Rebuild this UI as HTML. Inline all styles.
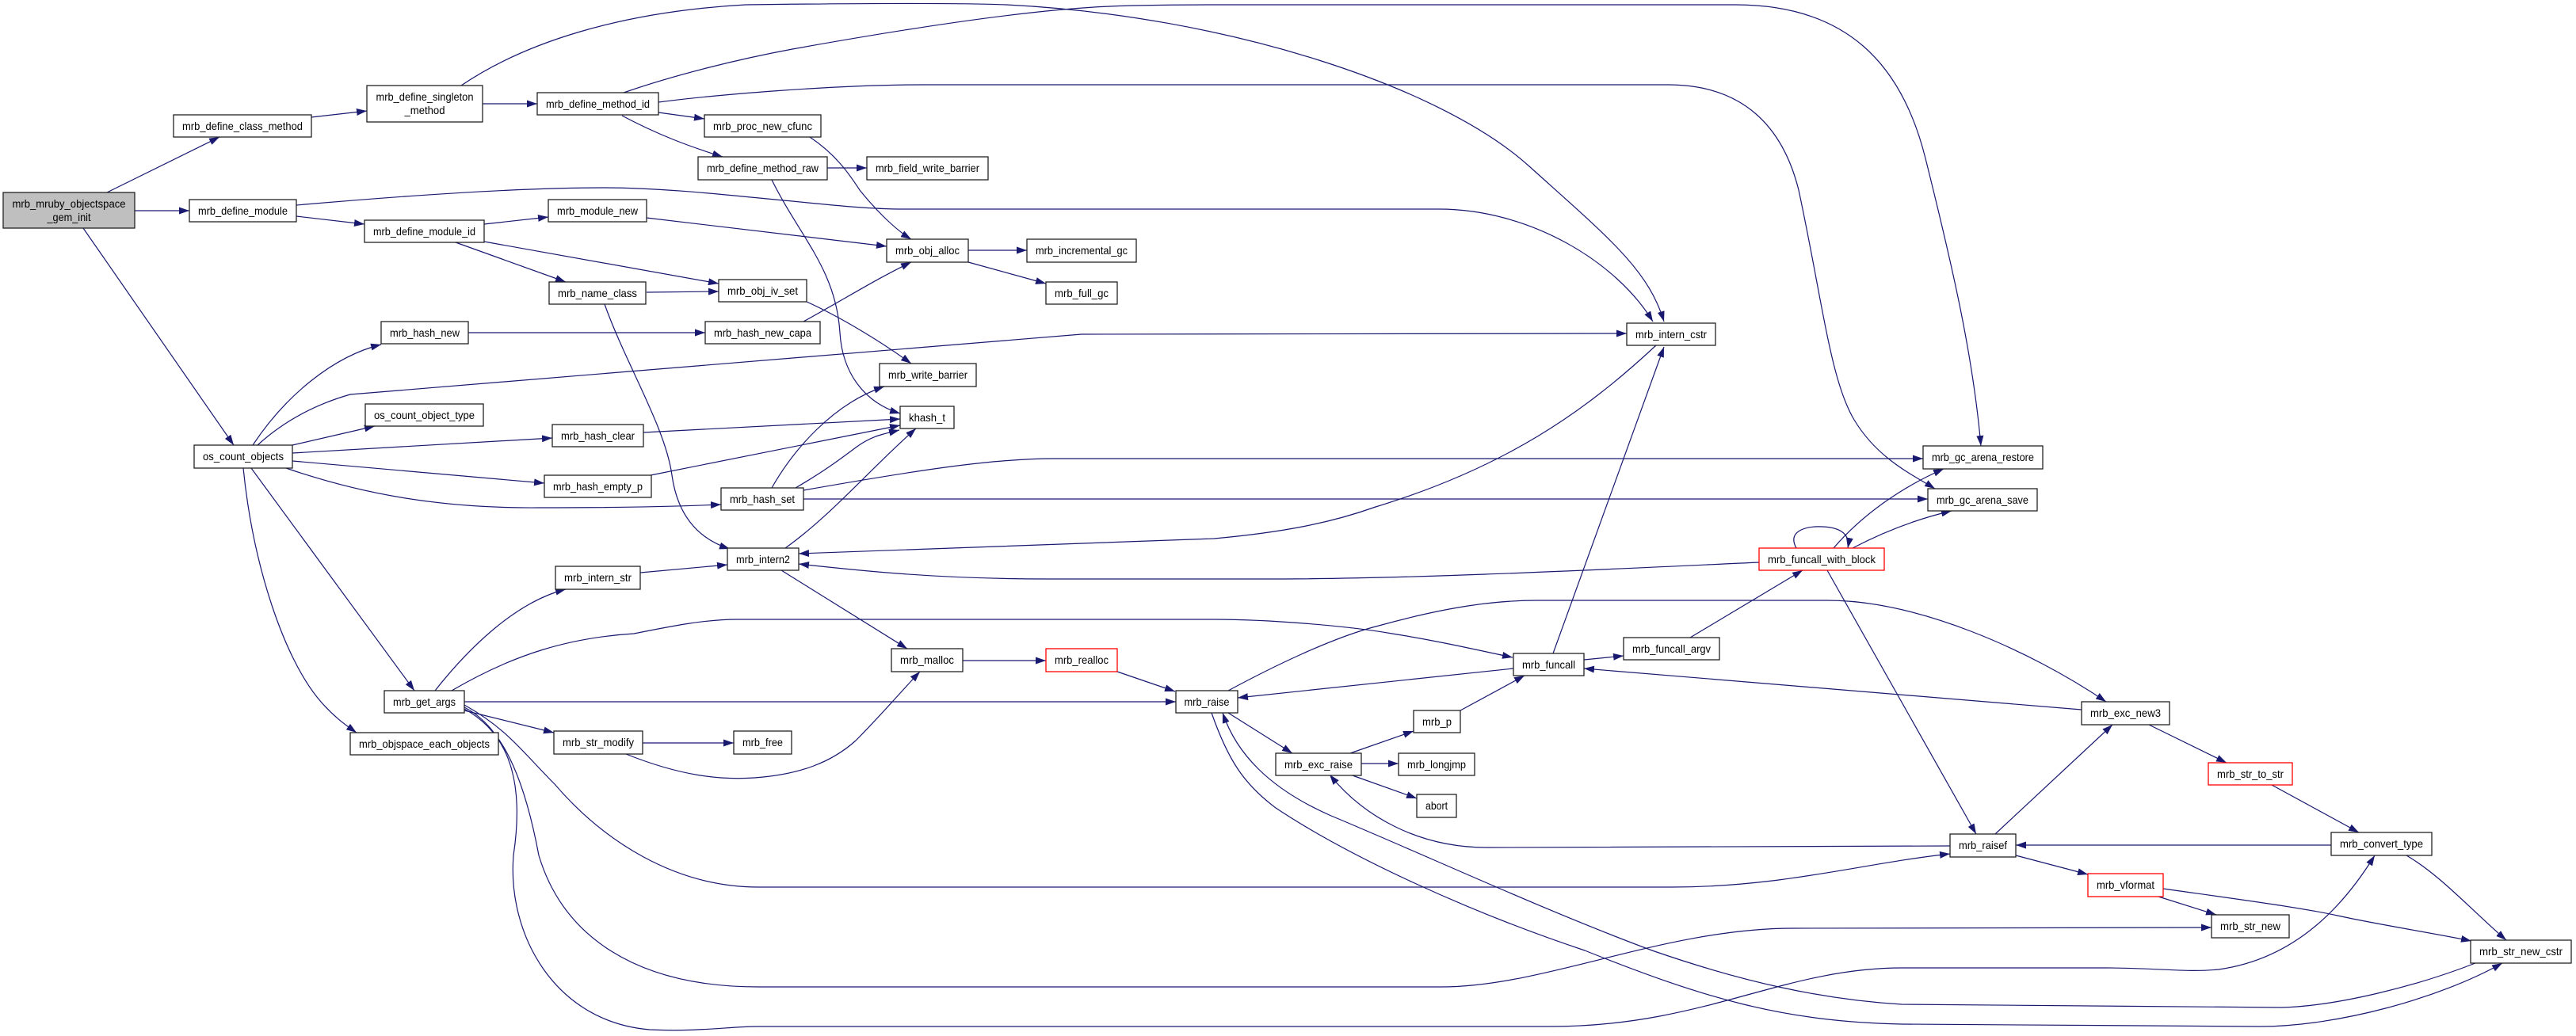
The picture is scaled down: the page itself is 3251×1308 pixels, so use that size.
<!DOCTYPE html>
<html><head><meta charset="utf-8"><style>
html,body{margin:0;padding:0;background:#fff;}
svg{display:block;}
text{font-family:"Liberation Sans",Arial,sans-serif;font-size:14px;fill:#000;}
.e{fill:none;stroke:#191970;stroke-width:1.2;marker-end:url(#a);}
.n{fill:#fff;stroke:#222;stroke-width:1.3;}
.r{fill:#fff;stroke:#ff0000;stroke-width:1.3;}
.g{fill:#bfbfbf;stroke:#222;stroke-width:1.3;}
</style></head><body>
<svg width="3251" height="1308" viewBox="0 0 3251 1308" xmlns="http://www.w3.org/2000/svg">
<defs><marker id="a" viewBox="0 0 13 9" refX="13" refY="4.5" markerWidth="13" markerHeight="9" markerUnits="userSpaceOnUse" orient="auto"><path d="M0,0 L13,4.5 L0,9 z" fill="#191970"/></marker></defs>
<rect width="3251" height="1308" fill="#fff"/>
<g>
<path class="e" d="M135,243 L277,173"/>
<path class="e" d="M170,266 L239,266"/>
<path class="e" d="M105,288 L295,562"/>
<path class="e" d="M393,148 L463,140"/>
<path class="e" d="M609,131 L678,131"/>
<path class="e" d="M582,108 C660,55 780,15 941,6 C1100,4 1220,4 1270,6 C1550,20 1820,110 1930,210 C2030,300 2080,340 2100,406"/>
<path class="e" d="M787,117 C850,95 930,75 1000,62 C1150,35 1300,12 1401,8 C1450,6 1500,6 1540,6 L2190,6 C2330,6 2400,80 2430,200 C2465,340 2490,450 2500,563"/>
<path class="e" d="M831,129 C900,120 1050,107 1166,107 L2105,107 C2200,107 2250,160 2270,240 C2300,380 2310,480 2340,530 C2370,580 2415,600 2442,617"/>
<path class="e" d="M831,142 L889,150"/>
<path class="e" d="M785,146 C830,170 870,185 912,198"/>
<path class="e" d="M1044,212 L1094,212"/>
<path class="e" d="M974,227 C1010,300 1055,340 1060,420 C1063,470 1090,508 1136,522"/>
<path class="e" d="M1022,173 C1055,195 1072,220 1085,240 C1105,265 1130,290 1150,302"/>
<path class="e" d="M374,259 C500,248 650,237 760,237 C850,237 950,250 1000,254 C1060,260 1100,264 1140,264 L1816,264 C1930,264 2040,330 2086,406"/>
<path class="e" d="M374,273 L460,283"/>
<path class="e" d="M611,283 L692,274"/>
<path class="e" d="M611,305 L907,358"/>
<path class="e" d="M575,306 L714,356"/>
<path class="e" d="M816,275 L1119,311"/>
<path class="e" d="M816,369 L907,368"/>
<path class="e" d="M763,384 C790,460 840,540 848,600 C855,650 880,680 921,693"/>
<path class="e" d="M1222,316 L1296,316"/>
<path class="e" d="M1222,331 L1320,358"/>
<path class="e" d="M1018,381 C1060,400 1110,430 1150,459"/>
<path class="e" d="M591,420 L890,420"/>
<path class="e" d="M1014,406 C1070,375 1110,350 1150,331"/>
<path class="e" d="M319,562 C360,500 420,450 481,435"/>
<path class="e" d="M325,562 C360,530 400,510 442,498 L1365,422 L2053,421"/>
<path class="e" d="M369,562 L473,538"/>
<path class="e" d="M369,572 L697,553"/>
<path class="e" d="M369,582 L687,610"/>
<path class="e" d="M361,591 C460,625 560,642 680,641 C760,641 840,640 910,637"/>
<path class="e" d="M317,591 L523,872"/>
<path class="e" d="M307,591 C320,720 360,830 400,880 C420,905 440,918 450,925"/>
<path class="e" d="M812,546 L1136,529"/>
<path class="e" d="M821,600 L1136,537"/>
<path class="e" d="M974,616 C1000,570 1050,510 1116,488"/>
<path class="e" d="M1004,616 C1040,595 1060,580 1080,565 C1100,550 1115,548 1135,543"/>
<path class="e" d="M1014,619 C1150,595 1250,579 1330,579 L2427,579"/>
<path class="e" d="M1014,630 L2433,630"/>
<path class="e" d="M991,692 C1050,650 1100,590 1156,541"/>
<path class="e" d="M986,720 L1145,819"/>
<path class="e" d="M2090,436 C2000,520 1900,590 1736,640 C1680,660 1620,672 1532,680 L1008,699"/>
<path class="e" d="M808,723 L918,713"/>
<path class="e" d="M2220,710 C2000,720 1800,730 1620,731 L1323,731 C1180,731 1080,720 1008,712"/>
<path class="e" d="M1215,834 L1320,834"/>
<path class="e" d="M1410,848 L1483,873"/>
<path class="e" d="M790,952 C860,980 910,985 952,982 C1010,978 1050,962 1080,935 C1110,905 1140,870 1161,848"/>
<path class="e" d="M811,938 L926,938"/>
<path class="e" d="M586,897 L699,925"/>
<path class="e" d="M586,886 L1484,886"/>
<path class="e" d="M549,872 C590,820 650,760 714,744"/>
<path class="e" d="M570,872 C650,825 720,805 800,800 C850,790 890,782 931,782 L1532,782 C1600,782 1700,790 1757,800 C1820,810 1870,822 1909,830"/>
<path class="e" d="M586,890 C640,920 660,950 700,990 C760,1060 850,1120 957,1120 L2110,1120 C2250,1120 2350,1090 2461,1078"/>
<path class="e" d="M586,893 C640,920 665,1000 680,1080 C710,1180 800,1246 957,1246 L1819,1246 C1950,1246 2100,1172 2263,1172 L2791,1171"/>
<path class="e" d="M586,895 C650,930 660,1000 648,1080 C640,1180 700,1290 820,1300 C880,1303 920,1296 957,1296 L1957,1296 C2150,1296 2250,1222 2400,1222 L2658,1222 C2720,1222 2760,1228 2800,1224 C2900,1210 2960,1140 2997,1080"/>
<path class="e" d="M1550,900 L1631,951"/>
<path class="e" d="M1550,872 C1600,845 1680,805 1740,790 C1830,765 1890,758 1940,758 L2306,758 C2420,758 2560,820 2658,886"/>
<path class="e" d="M1529,900 C1550,960 1570,990 1610,1020 C1700,1080 1850,1150 2000,1200 C2150,1260 2250,1290 2400,1293 L2852,1296 C2950,1296 3080,1260 3158,1216"/>
<path class="e" d="M3124,1216 C3050,1245 2950,1270 2880,1272 L2400,1268 C2300,1262 2200,1240 2085,1200 C1950,1150 1800,1080 1680,1030 C1600,995 1560,950 1543,900"/>
<path class="e" d="M1704,951 L1784,923"/>
<path class="e" d="M1718,964 L1765,964"/>
<path class="e" d="M1704,978 L1788,1008"/>
<path class="e" d="M1843,897 L1924,853"/>
<path class="e" d="M1960,825 L2100,438"/>
<path class="e" d="M1999,833 L2049,828"/>
<path class="e" d="M1910,844 L1562,881"/>
<path class="e" d="M2133,805 L2275,720"/>
<path class="e" d="M2267,692 C2255,670 2280,664 2300,665 C2325,666 2335,676 2332,692"/>
<path class="e" d="M2314,692 C2350,650 2400,615 2453,592"/>
<path class="e" d="M2338,692 C2380,670 2420,655 2463,645"/>
<path class="e" d="M2306,720 L2494,1053"/>
<path class="e" d="M2627,896 L1999,844"/>
<path class="e" d="M2712,915 L2810,963"/>
<path class="e" d="M2867,991 L2977,1051"/>
<path class="e" d="M2942,1067 L2544,1067"/>
<path class="e" d="M2518,1053 L2666,915"/>
<path class="e" d="M2461,1068 L1880,1070 C1790,1071 1720,1030 1678,978"/>
<path class="e" d="M2544,1080 L2635,1104"/>
<path class="e" d="M2724,1132 L2797,1155"/>
<path class="e" d="M2730,1122 C2800,1132 2900,1145 2950,1156 C3000,1167 3070,1178 3119,1188"/>
<path class="e" d="M3037,1080 C3080,1105 3120,1150 3163,1187"/>
</g>
<g text-anchor="middle">
<rect class="g" x="4" y="243" width="166" height="45"/>
<text x="87" y="262" textLength="143" lengthAdjust="spacingAndGlyphs">mrb_mruby_objectspace</text>
<text x="87" y="279" textLength="55" lengthAdjust="spacingAndGlyphs">_gem_init</text>

<rect class="n" x="219" y="145" width="174" height="28"/><text x="306" y="164" textLength="152" lengthAdjust="spacingAndGlyphs">mrb_define_class_method</text>
<rect class="n" x="463" y="108" width="146" height="46"/>
<text x="536" y="127" textLength="123" lengthAdjust="spacingAndGlyphs">mrb_define_singleton</text>
<text x="536" y="144" textLength="51" lengthAdjust="spacingAndGlyphs">_method</text>
<rect class="n" x="678" y="117" width="153" height="28"/><text x="754.5" y="136" textLength="131" lengthAdjust="spacingAndGlyphs">mrb_define_method_id</text>
<rect class="n" x="239" y="252" width="135" height="28"/><text x="306.5" y="271" textLength="113" lengthAdjust="spacingAndGlyphs">mrb_define_module</text>
<rect class="n" x="460" y="278" width="151" height="28"/><text x="535.5" y="297" textLength="129" lengthAdjust="spacingAndGlyphs">mrb_define_module_id</text>
<rect class="n" x="692" y="252" width="124" height="28"/><text x="754" y="271" textLength="102" lengthAdjust="spacingAndGlyphs">mrb_module_new</text>
<rect class="n" x="693" y="356" width="122" height="28"/><text x="754" y="375" textLength="100" lengthAdjust="spacingAndGlyphs">mrb_name_class</text>
<rect class="n" x="481" y="406" width="110" height="28"/><text x="536" y="425" textLength="88" lengthAdjust="spacingAndGlyphs">mrb_hash_new</text>
<rect class="n" x="889" y="145" width="147" height="28"/><text x="962.5" y="164" textLength="125" lengthAdjust="spacingAndGlyphs">mrb_proc_new_cfunc</text>
<rect class="n" x="881" y="198" width="163" height="29"/><text x="962.5" y="217" textLength="141" lengthAdjust="spacingAndGlyphs">mrb_define_method_raw</text>
<rect class="n" x="1094" y="198" width="153" height="29"/><text x="1170.5" y="217" textLength="131" lengthAdjust="spacingAndGlyphs">mrb_field_write_barrier</text>
<rect class="n" x="1119" y="302" width="103" height="29"/><text x="1170.5" y="321" textLength="81" lengthAdjust="spacingAndGlyphs">mrb_obj_alloc</text>
<rect class="n" x="1296" y="302" width="138" height="29"/><text x="1365" y="321" textLength="116" lengthAdjust="spacingAndGlyphs">mrb_incremental_gc</text>
<rect class="n" x="1320" y="356" width="90" height="28"/><text x="1365" y="375" textLength="68" lengthAdjust="spacingAndGlyphs">mrb_full_gc</text>
<rect class="n" x="907" y="353" width="111" height="28"/><text x="962.5" y="372" textLength="89" lengthAdjust="spacingAndGlyphs">mrb_obj_iv_set</text>
<rect class="n" x="890" y="406" width="145" height="28"/><text x="962.5" y="425" textLength="123" lengthAdjust="spacingAndGlyphs">mrb_hash_new_capa</text>
<rect class="n" x="2053" y="408" width="112" height="28"/><text x="2109" y="427" textLength="90" lengthAdjust="spacingAndGlyphs">mrb_intern_cstr</text>
<rect class="n" x="1110" y="459" width="122" height="29"/><text x="1171" y="478" textLength="100" lengthAdjust="spacingAndGlyphs">mrb_write_barrier</text>
<rect class="n" x="1136" y="513" width="68" height="28"/><text x="1170" y="532" textLength="46" lengthAdjust="spacingAndGlyphs">khash_t</text>
<rect class="n" x="2427" y="563" width="151" height="29"/><text x="2502.5" y="582" textLength="129" lengthAdjust="spacingAndGlyphs">mrb_gc_arena_restore</text>
<rect class="n" x="2433" y="617" width="138" height="28"/><text x="2502" y="636" textLength="116" lengthAdjust="spacingAndGlyphs">mrb_gc_arena_save</text>
<rect class="n" x="245" y="562" width="124" height="29"/><text x="307" y="581" textLength="102" lengthAdjust="spacingAndGlyphs">os_count_objects</text>
<rect class="n" x="461" y="510" width="149" height="28"/><text x="535.5" y="529" textLength="127" lengthAdjust="spacingAndGlyphs">os_count_object_type</text>
<rect class="n" x="697" y="536" width="115" height="28"/><text x="754.5" y="555" textLength="93" lengthAdjust="spacingAndGlyphs">mrb_hash_clear</text>
<rect class="n" x="687" y="600" width="135" height="28"/><text x="754.5" y="619" textLength="113" lengthAdjust="spacingAndGlyphs">mrb_hash_empty_p</text>
<rect class="n" x="910" y="616" width="104" height="28"/><text x="962" y="635" textLength="82" lengthAdjust="spacingAndGlyphs">mrb_hash_set</text>
<rect class="n" x="918" y="692" width="90" height="28"/><text x="963" y="711" textLength="68" lengthAdjust="spacingAndGlyphs">mrb_intern2</text>
<rect class="n" x="701" y="715" width="107" height="29"/><text x="754.5" y="734" textLength="85" lengthAdjust="spacingAndGlyphs">mrb_intern_str</text>
<rect class="r" x="2220" y="692" width="158" height="28"/><text x="2299" y="711" textLength="136" lengthAdjust="spacingAndGlyphs">mrb_funcall_with_block</text>
<rect class="n" x="1125" y="819" width="90" height="29"/><text x="1170" y="838" textLength="68" lengthAdjust="spacingAndGlyphs">mrb_malloc</text>
<rect class="r" x="1320" y="819" width="90" height="29"/><text x="1365" y="838" textLength="68" lengthAdjust="spacingAndGlyphs">mrb_realloc</text>
<rect class="n" x="1484" y="872" width="78" height="28"/><text x="1523" y="891" textLength="57" lengthAdjust="spacingAndGlyphs">mrb_raise</text>
<rect class="n" x="1910" y="825" width="89" height="28"/><text x="1954.5" y="844" textLength="67" lengthAdjust="spacingAndGlyphs">mrb_funcall</text>
<rect class="n" x="2049" y="805" width="121" height="28"/><text x="2109.5" y="824" textLength="99" lengthAdjust="spacingAndGlyphs">mrb_funcall_argv</text>
<rect class="n" x="2627" y="886" width="111" height="29"/><text x="2682.5" y="905" textLength="89" lengthAdjust="spacingAndGlyphs">mrb_exc_new3</text>
<rect class="n" x="485" y="872" width="101" height="28"/><text x="535.5" y="891" textLength="79" lengthAdjust="spacingAndGlyphs">mrb_get_args</text>
<rect class="n" x="442" y="925" width="187" height="28"/><text x="535.5" y="944" textLength="165" lengthAdjust="spacingAndGlyphs">mrb_objspace_each_objects</text>
<rect class="n" x="699" y="923" width="112" height="29"/><text x="755" y="942" textLength="90" lengthAdjust="spacingAndGlyphs">mrb_str_modify</text>
<rect class="n" x="926" y="923" width="73" height="29"/><text x="962.5" y="942" textLength="51" lengthAdjust="spacingAndGlyphs">mrb_free</text>
<rect class="n" x="1784" y="897" width="59" height="28"/><text x="1813.5" y="916" textLength="37" lengthAdjust="spacingAndGlyphs">mrb_p</text>
<rect class="n" x="1610" y="951" width="108" height="28"/><text x="1664" y="970" textLength="86" lengthAdjust="spacingAndGlyphs">mrb_exc_raise</text>
<rect class="n" x="1765" y="951" width="96" height="28"/><text x="1813" y="970" textLength="74" lengthAdjust="spacingAndGlyphs">mrb_longjmp</text>
<rect class="n" x="1788" y="1003" width="50" height="29"/><text x="1813" y="1022" textLength="28" lengthAdjust="spacingAndGlyphs">abort</text>
<rect class="r" x="2787" y="963" width="106" height="28"/><text x="2840" y="982" textLength="84" lengthAdjust="spacingAndGlyphs">mrb_str_to_str</text>
<rect class="n" x="2461" y="1053" width="83" height="29"/><text x="2502.5" y="1072" textLength="61" lengthAdjust="spacingAndGlyphs">mrb_raisef</text>
<rect class="n" x="2942" y="1051" width="127" height="29"/><text x="3005.5" y="1070" textLength="105" lengthAdjust="spacingAndGlyphs">mrb_convert_type</text>
<rect class="r" x="2635" y="1103" width="95" height="29"/><text x="2682.5" y="1122" textLength="73" lengthAdjust="spacingAndGlyphs">mrb_vformat</text>
<rect class="n" x="2791" y="1155" width="98" height="29"/><text x="2840" y="1174" textLength="76" lengthAdjust="spacingAndGlyphs">mrb_str_new</text>
<rect class="n" x="3118" y="1187" width="127" height="29"/><text x="3181.5" y="1206" textLength="105" lengthAdjust="spacingAndGlyphs">mrb_str_new_cstr</text>
</g>
</svg>
</body></html>
